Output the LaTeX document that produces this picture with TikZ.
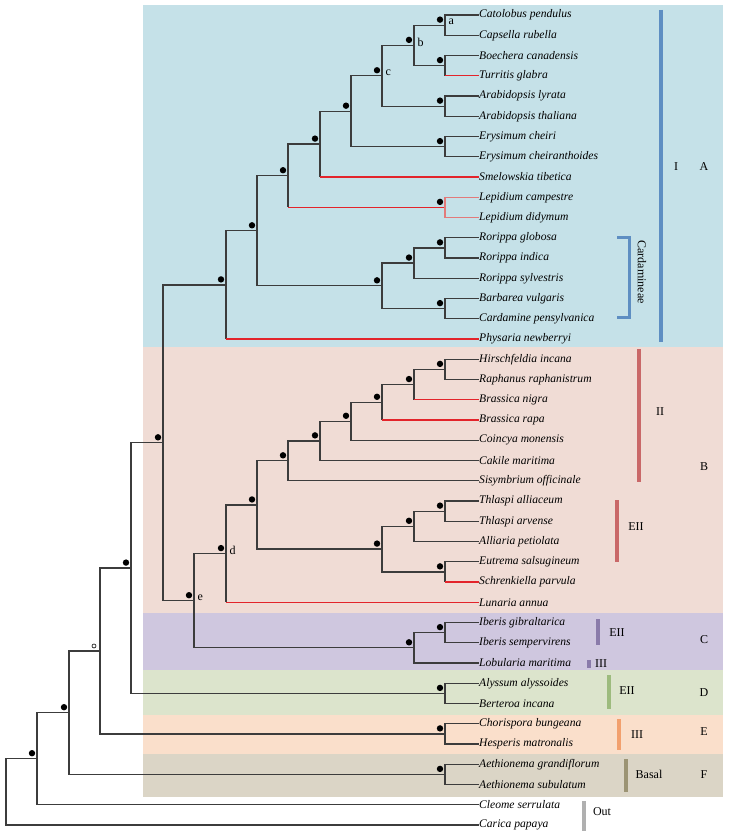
\documentclass[tikz,border=0pt]{standalone}
\usepackage{fontspec}
\setmainfont{Liberation Serif}
\usetikzlibrary{calc}

\definecolor{bandA}{HTML}{C5E1E8}
\definecolor{bandB}{HTML}{F0DCD5}
\definecolor{bandC}{HTML}{CFC7DF}
\definecolor{bandD}{HTML}{DCE4CC}
\definecolor{bandE}{HTML}{FADFCB}
\definecolor{bandF}{HTML}{DBD5C6}
\definecolor{branch}{HTML}{3C3C3C}
\definecolor{redbranch}{HTML}{E3242B}
\definecolor{pinkbranch}{HTML}{E27A7A}
\definecolor{barI}{HTML}{5E8EC2}
\definecolor{barII}{HTML}{C96868}
\definecolor{barC}{HTML}{8A7BAA}
\definecolor{barD}{HTML}{9DBB7E}
\definecolor{barE}{HTML}{F2A06E}
\definecolor{barF}{HTML}{9C9474}
\definecolor{barOut}{HTML}{B0B0B0}

\tikzset{
  leaf/.style={anchor=west, inner sep=0pt, font=\fontsize{11.6}{13}\selectfont\itshape},
  br/.style={draw=branch, line width=1.25pt},
  redbr/.style={draw=redbranch, line width=1.25pt},
  pinkbr/.style={draw=pinkbranch, line width=1.25pt},
  tag/.style={anchor=west, inner sep=0pt, font=\fontsize{12}{14}\selectfont},
  grp/.style={inner sep=0pt, font=\fontsize{12}{14}\selectfont},
  bar/.style={line width=3.2pt}
}

\begin{document}
\begin{tikzpicture}[x=1pt, y=-1pt]
    \useasboundingbox (0,0) rectangle (730,837);

    % coloured bands
    \fill[bandA] (143,5.5) rectangle (723,347);
    \fill[bandB] (143,347) rectangle (723,613);
    \fill[bandC] (143,613) rectangle (723,670);
    \fill[bandD] (143,670) rectangle (723,715);
    \fill[bandE] (143,715) rectangle (723,754);
    \fill[bandF] (143,754) rectangle (723,797);

    % leaves
    \foreach \n [count=\i] in {Catolobus pendulus, Capsella rubella, Boechera canadensis,
        Turritis glabra, Arabidopsis lyrata, Arabidopsis thaliana, Erysimum cheiri,
        Erysimum cheiranthoides, Smelowskia tibetica, Lepidium campestre, Lepidium didymum,
        Rorippa globosa, Rorippa indica, Rorippa sylvestris, Barbarea vulgaris,
        Cardamine pensylvanica, Physaria newberryi, Hirschfeldia incana,
        Raphanus raphanistrum, Brassica nigra, Brassica rapa, Coincya monensis,
        Cakile maritima, Sisymbrium officinale, Thlaspi alliaceum, Thlaspi arvense,
        Alliaria petiolata, Eutrema salsugineum, Schrenkiella parvula, Lunaria annua,
        Iberis gibraltarica, Iberis sempervirens, Lobularia maritima, Alyssum alyssoides,
        Berteroa incana, Chorispora bungeana, Hesperis matronalis, Aethionema grandiflorum,
        Aethionema subulatum, Cleome serrulata, Carica papaya}
      \node[leaf] (l\i) at (479,{15+20.25*(\i-1)}) {\n};

    % internal nodes
    \coordinate (a) at (445,25.13);
    \coordinate (n34) at (445,65.63);
    \coordinate (b) at (414,45.38);
    \coordinate (n56) at (445,106.13);
    \coordinate (c) at (382,75.75);
    \coordinate (n78) at (445,146.63);
    \coordinate (n351) at (351,111.19);
    \coordinate (n320) at (320,144.1);
    \coordinate (nLep) at (445,207.38);
    \coordinate (n288) at (288,175.74);
    \coordinate (n1213) at (445,247.88);
    \coordinate (nR) at (414,263.06);
    \coordinate (n1516) at (445,308.63);
    \coordinate (nCard) at (382,285.84);
    \coordinate (n257) at (257,230.79);
    \coordinate (nA) at (226,284.9);
    \coordinate (n1819) at (445,369.38);
    \coordinate (nB1) at (414,384.56);
    \coordinate (nB2) at (382,402.28);
    \coordinate (nB3) at (351,421.27);
    \coordinate (nB4) at (320,440.88);
    \coordinate (nB5) at (288,460.82);
    \coordinate (n2526) at (445,511.13);
    \coordinate (nE1) at (414,526.31);
    \coordinate (n2829) at (445,571.88);
    \coordinate (nE2) at (382,549.09);
    \coordinate (nB6) at (257,504.96);
    \coordinate (d) at (226,553.6);
    \coordinate (n3132) at (445,632.63);
    \coordinate (nC) at (414,647.81);
    \coordinate (e) at (194,600.71);
    \coordinate (nAB) at (163,442.8);
    \coordinate (nD) at (445,693.38);
    \coordinate (n131) at (131,568.09);
    \coordinate (nE) at (445,733.88);
    \coordinate (n100) at (100,650.98);
    \coordinate (nF) at (445,774.38);
    \coordinate (n69) at (69,712.68);
    \coordinate (n37) at (37,758.71);
    \coordinate (root) at (6,791.86);

    % branches
    \foreach \p/\c in {a/l1.west, a/l2.west, n34/l3.west, b/a, b/n34,
        n56/l5.west, n56/l6.west, c/b, c/n56, n78/l7.west, n78/l8.west, n351/c, n351/n78,
        n320/n351, n288/n320, n1213/l12.west, n1213/l13.west,
        nR/n1213, nR/l14.west, n1516/l15.west, n1516/l16.west, nCard/nR, nCard/n1516,
        n257/n288, n257/nCard, nA/n257,
        n1819/l18.west, n1819/l19.west, nB1/n1819, nB2/nB1,
        nB3/nB2, nB3/l22.west, nB4/nB3, nB4/l23.west, nB5/nB4, nB5/l24.west,
        n2526/l25.west, n2526/l26.west, nE1/n2526, nE1/l27.west, n2829/l28.west,
        nE2/nE1, nE2/n2829, nB6/nB5, nB6/nE2, d/nB6,
        n3132/l31.west, n3132/l32.west, nC/n3132, nC/l33.west, e/d, e/nC, nAB/nA, nAB/e,
        nD/l34.west, nD/l35.west, n131/nAB, n131/nD, nE/l36.west, nE/l37.west,
        n100/n131, n100/nE, nF/l38.west, nF/l39.west, n69/n100, n69/nF,
        n37/n69, n37/l40.west, root/n37, root/l41.west}
      \draw[br] (\p) |- (\c);

    % red branches: dark stem, red run
    \draw[br] (n34) -- (n34 |- l4.west);
    \draw[redbr] (n34 |- l4.west) -- (l4.west);
    \draw[br] (n320) -- (n320 |- l9.west);
    \draw[redbr] (n320 |- l9.west) -- (l9.west);
    \draw[br] (n288) -- (n288 |- nLep);
    \draw[redbr] (n288 |- nLep) -- (nLep);
    \draw[pinkbr] (nLep) |- (l10.west) (nLep) |- (l11.west);
    \draw[br] (nA) -- (nA |- l17.west);
    \draw[redbr] (nA |- l17.west) -- (l17.west);
    \draw[br] (nB1) -- (nB1 |- l20.west);
    \draw[redbr] (nB1 |- l20.west) -- (l20.west);
    \draw[br] (nB2) -- (nB2 |- l21.west);
    \draw[redbr] (nB2 |- l21.west) -- (l21.west);
    \draw[br] (n2829) -- (n2829 |- l29.west);
    \draw[redbr] (n2829 |- l29.west) -- (l29.west);
    \draw[br] (d) -- (d |- l30.west);
    \draw[redbr] (d |- l30.west) -- (l30.west);

    % support dots
    \foreach \p in {a, n34, b, n56, c, n78, n351, n320, nLep, n288, n1213, nR, n1516,
        nCard, n257, nA, n1819, nB1, nB2, nB3, nB4, nB5, n2526, nE1, n2829, nE2, nB6, d,
        n3132, nC, e, nAB, nD, n131, nE, nF, n69, n37}
      \fill (\p) ++(-5,-5.5) circle (3.2pt);
    \draw[line width=0.6pt] (n100) ++(-6,-5) circle (2pt);

    \node[tag] (ta) at ([shift={(3.5,-3)}]a) {a};
    \node[tag] (tb) at ([shift={(3.5,-3)}]b) {b};
    \node[tag] (tc) at ([shift={(3.5,-3)}]c) {c};
    \node[tag] (td) at ([shift={(3.5,-3)}]d) {d};
    \node[tag] (te) at ([shift={(3.5,-3)}]e) {e};

    % clade bars
    \draw[bar, barI] (661,10) -- (661,342);
    \draw[barI, line width=2.4pt] (617,237.3) -- (629.5,237.3) -- (629.5,317.5) -- (617,317.5);
    \node[grp, rotate=-90] (gCard) at (642,272) {Cardamineae};
    \node[grp] (gI) at (676,167) {I};
    \node[grp] (gA) at (704,167) {A};

    \draw[bar, barII] (639,349) -- (639,482);
    \node[grp] (gII) at (660,412) {II};
    \draw[bar, barII] (617,500) -- (617,562);
    \node[grp] (gEIIb) at (636,527) {EII};
    \node[grp] (gB) at (704,467) {B};

    \draw[bar, barC] (598,619) -- (598,645);
    \node[grp] (gEIIc) at (617,633) {EII};
    \draw[bar, barC] (589,660) -- (589,668);
    \node[grp] (gIIIc) at (601,664) {III};
    \node[grp] (gC) at (704,640) {C};

    \draw[bar, barD] (609,675) -- (609,709);
    \node[grp] (gEIId) at (627,691) {EII};
    \node[grp] (gD) at (704,693) {D};

    \draw[bar, barE] (619,719) -- (619,750);
    \node[grp] (gIIIe) at (637,735) {III};
    \node[grp] (gE) at (704,732) {E};

    \draw[bar, barF] (626,759) -- (626,792);
    \node[grp] (gBasal) at (649,774) {Basal};
    \node[grp] (gF) at (704,775) {F};

    \draw[bar, barOut] (584,801) -- (584,831);
    \node[grp] (gOut) at (602,812) {Out};
\end{tikzpicture}
\end{document}
